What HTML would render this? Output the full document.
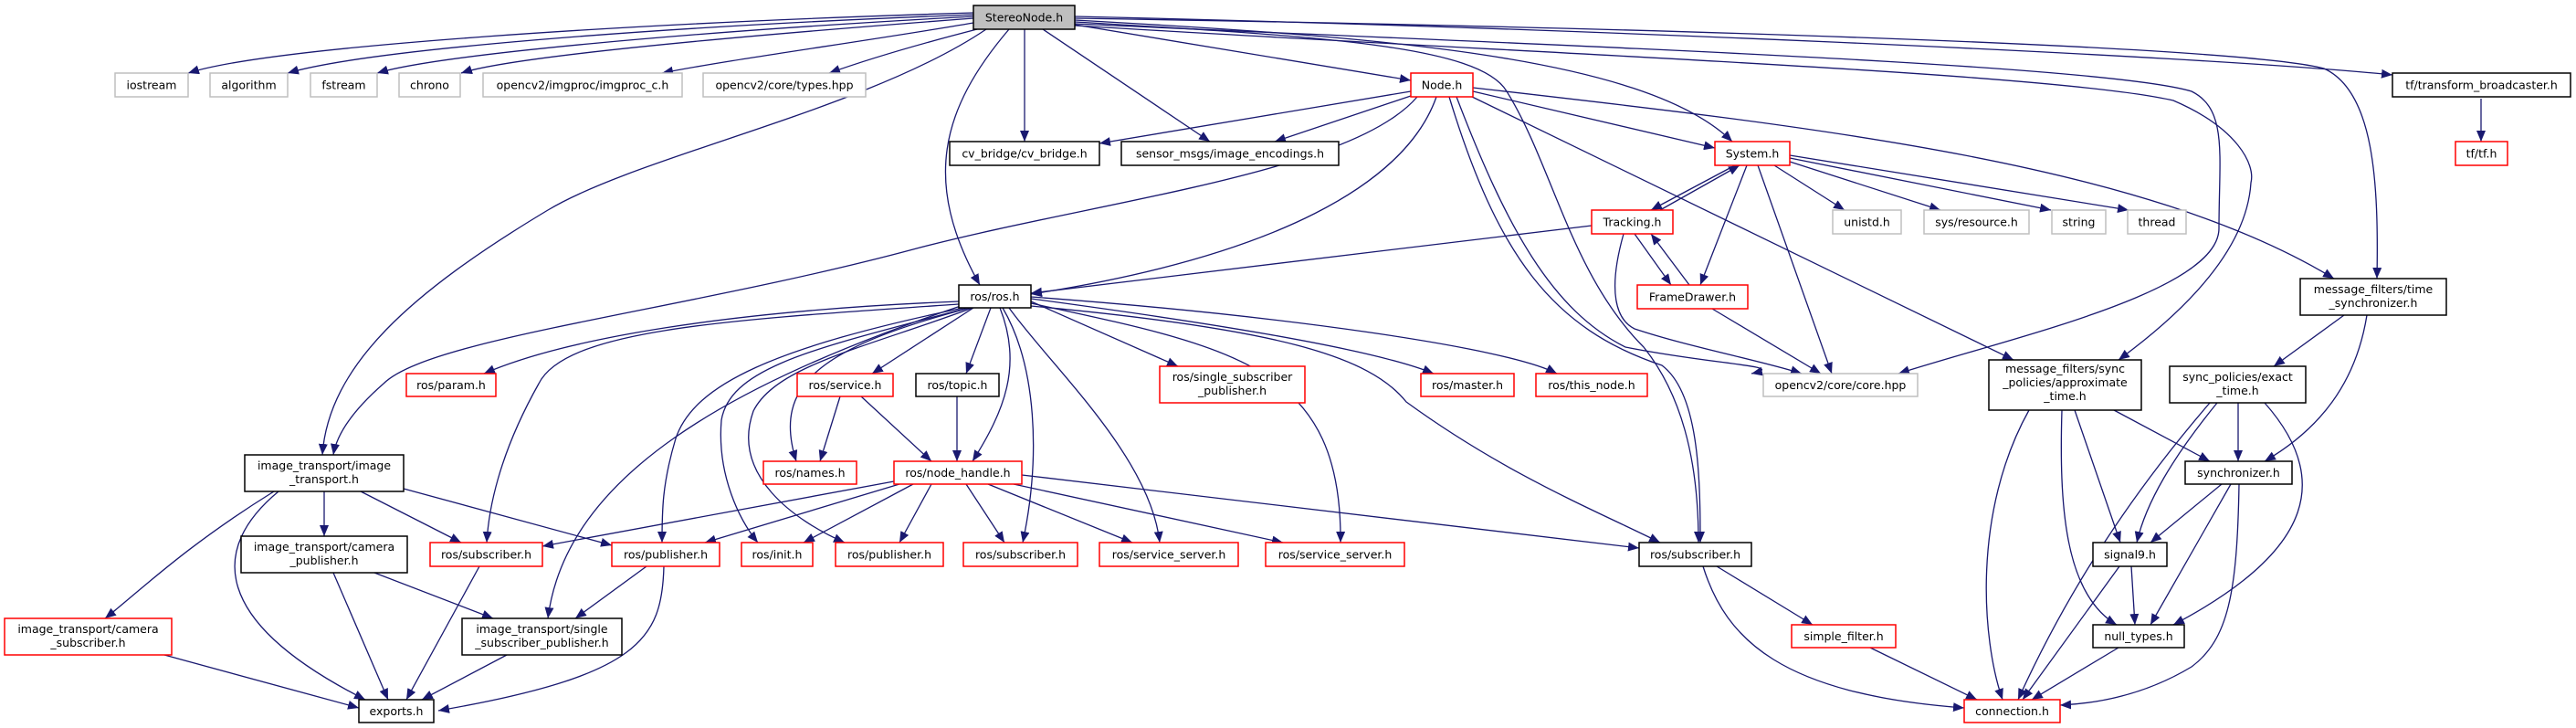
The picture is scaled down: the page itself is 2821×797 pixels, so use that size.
<!DOCTYPE html>
<html><head><meta charset="utf-8"><style>
html,body{margin:0;padding:0;background:#fff;}
svg{display:block;}
text{font-family:"DejaVu Sans","Liberation Sans",sans-serif;font-size:12.5px;fill:#000;}
.e{fill:none;stroke:#191970;stroke-width:1.3;marker-end:url(#a);}
.g{fill:#fff;stroke:#bfbfbf;stroke-width:1.5;}
.r{fill:#fff;stroke:#ff0000;stroke-width:1.5;}
.k{fill:#fff;stroke:#000;stroke-width:1.5;}
</style></head><body>
<svg width="2821" height="797" viewBox="0 0 2821 797" xmlns="http://www.w3.org/2000/svg">
<defs><marker id="a" markerUnits="userSpaceOnUse" markerWidth="13" markerHeight="10" refX="12" refY="5" orient="auto"><path d="M0,0 L12,5 L0,10 z" fill="#191970"/></marker></defs>
<g>
<path class="e" d="M1066,14 C700,25 300,50 206,80"/>
<path class="e" d="M1066,16 C700,30 400,55 315,80"/>
<path class="e" d="M1066,18 C750,35 480,60 413,80"/>
<path class="e" d="M1066,20 C800,40 560,62 505,80"/>
<path class="e" d="M1066,25 C950,45 800,65 725,80"/>
<path class="e" d="M1070,32 C1000,50 950,65 908,80"/>
<path class="e" d="M1080,32 C950,120 700,170 600,230 C450,320 360,400 353,498"/>
<path class="e" d="M1105,32 C1030,120 1010,200 1073,312"/>
<path class="e" d="M1122,32 L1122,155"/>
<path class="e" d="M1142,32 L1325,155"/>
<path class="e" d="M1177,27 L1545,88"/>
<path class="e" d="M1177,22 C1500,40 1800,60 1897,155"/>
<path class="e" d="M1177,24 C1450,40 1620,50 1650,100 C1700,180 1720,300 1800,380 C1840,430 1860,500 1860,594"/>
<path class="e" d="M1177,26 C1700,50 2300,70 2400,100 C2440,120 2430,170 2430,250 C2430,320 2200,370 2079,409"/>
<path class="e" d="M1177,28 C1700,60 2250,80 2380,110 C2450,140 2470,180 2465,200 C2460,280 2380,350 2320,394"/>
<path class="e" d="M1177,20 C1800,30 2450,50 2545,75 C2600,100 2605,200 2603,305"/>
<path class="e" d="M1177,18 C1700,30 2400,60 2620,82"/>
<path class="e" d="M1545,100 L1204,157"/>
<path class="e" d="M1545,105 L1396,155"/>
<path class="e" d="M1552,106 C1480,190 1200,220 1000,273 C750,340 470,370 420,420 C380,455 368,480 365,498"/>
<path class="e" d="M1573,106 C1540,200 1400,280 1129,322"/>
<path class="e" d="M1613,100 L1878,162"/>
<path class="e" d="M1613,96 C2000,140 2350,180 2556,305"/>
<path class="e" d="M1608,104 L2205,394"/>
<path class="e" d="M1587,106 C1640,280 1700,360 1820,400 C1860,430 1862,520 1862,594"/>
<path class="e" d="M1595,106 C1650,250 1700,340 1780,380 C1880,400 1960,400 1918,409"/>
<path class="e" d="M1900,181 L1808,230"/>
<path class="e" d="M1818,230 L1905,181"/>
<path class="e" d="M1913,181 L1862,312"/>
<path class="e" d="M1943,181 L2020,230"/>
<path class="e" d="M1960,177 L2125,230"/>
<path class="e" d="M1960,173 L2246,230"/>
<path class="e" d="M1960,170 L2331,230"/>
<path class="e" d="M1925,181 L2006,409"/>
<path class="e" d="M1790,256 L1830,312"/>
<path class="e" d="M1850,312 L1808,256"/>
<path class="e" d="M1743,247 L1129,321"/>
<path class="e" d="M1778,256 C1760,320 1770,350 1790,360 C1850,380 1930,395 1973,409"/>
<path class="e" d="M1875,338 L1994,409"/>
<path class="e" d="M1050,330 C800,340 620,370 530,409"/>
<path class="e" d="M1050,333 C800,350 620,360 590,420 C545,500 535,560 533,594"/>
<path class="e" d="M1055,337 C850,380 760,420 740,480 C725,530 725,560 725,594"/>
<path class="e" d="M1060,337 C900,380 800,400 790,460 C785,520 810,570 830,594"/>
<path class="e" d="M1065,337 C950,380 850,400 825,450 C800,520 870,570 925,594"/>
<path class="e" d="M1052,335 C800,420 620,520 600,677"/>
<path class="e" d="M1066,337 L955,409"/>
<path class="e" d="M1062,337 C900,380 845,420 872,505"/>
<path class="e" d="M1085,337 L1058,409"/>
<path class="e" d="M1095,337 C1120,400 1100,450 1065,505"/>
<path class="e" d="M1098,337 C1135,400 1140,500 1120,594"/>
<path class="e" d="M1105,337 C1150,400 1260,500 1270,594"/>
<path class="e" d="M1129,332 C1350,380 1470,400 1468,594"/>
<path class="e" d="M1129,330 L1290,401"/>
<path class="e" d="M1129,327 C1300,350 1500,380 1570,409"/>
<path class="e" d="M1129,325 C1400,345 1650,380 1705,409"/>
<path class="e" d="M1129,335 C1400,360 1500,390 1540,440 C1650,520 1750,560 1818,594"/>
<path class="e" d="M920,434 L898,505"/>
<path class="e" d="M943,434 L1020,505"/>
<path class="e" d="M1048,434 L1048,505"/>
<path class="e" d="M979,527 L594,598"/>
<path class="e" d="M985,530 L772,594"/>
<path class="e" d="M1000,530 L880,594"/>
<path class="e" d="M1020,530 L985,594"/>
<path class="e" d="M1058,530 L1100,594"/>
<path class="e" d="M1082,530 L1240,594"/>
<path class="e" d="M1110,530 L1405,594"/>
<path class="e" d="M1119,520 L1795,600"/>
<path class="e" d="M300,538 C200,600 150,650 115,677"/>
<path class="e" d="M305,538 C230,600 230,680 400,766"/>
<path class="e" d="M355,538 L355,587"/>
<path class="e" d="M395,538 L505,594"/>
<path class="e" d="M442,535 L670,597"/>
<path class="e" d="M365,627 L425,766"/>
<path class="e" d="M410,627 L540,677"/>
<path class="e" d="M525,620 L445,766"/>
<path class="e" d="M708,620 L630,677"/>
<path class="e" d="M727,620 C725,700 700,740 480,778"/>
<path class="e" d="M180,717 L393,775"/>
<path class="e" d="M555,717 L462,766"/>
<path class="e" d="M1880,620 L1985,684"/>
<path class="e" d="M1865,620 C1890,700 1950,760 2151,775"/>
<path class="e" d="M2048,709 L2165,766"/>
<path class="e" d="M2222,449 C2160,560 2170,700 2193,766"/>
<path class="e" d="M2258,449 C2255,550 2260,650 2318,684"/>
<path class="e" d="M2272,449 L2322,594"/>
<path class="e" d="M2315,449 L2420,505"/>
<path class="e" d="M2420,441 C2300,580 2240,700 2210,766"/>
<path class="e" d="M2428,441 C2380,500 2350,550 2340,594"/>
<path class="e" d="M2451,441 L2451,505"/>
<path class="e" d="M2480,441 C2550,520 2540,600 2380,684"/>
<path class="e" d="M2567,345 L2490,401"/>
<path class="e" d="M2592,345 C2580,420 2540,470 2480,505"/>
<path class="e" d="M2433,530 L2355,594"/>
<path class="e" d="M2443,530 L2355,684"/>
<path class="e" d="M2452,530 C2450,650 2440,700 2400,730 C2350,760 2300,770 2256,772"/>
<path class="e" d="M2334,620 L2338,684"/>
<path class="e" d="M2321,620 L2215,766"/>
<path class="e" d="M2320,709 L2225,766"/>
<path class="e" d="M2717,108 L2717,155"/>
</g>
<g>
<rect x="1066" y="6" width="111" height="26" fill="#bfbfbf" stroke="#000" stroke-width="1.5"/><text x="1121.5" y="23.5" text-anchor="middle">StereoNode.h</text>
<rect class="g" x="126" y="80" width="80" height="26"/><text x="166" y="97.5" text-anchor="middle">iostream</text>
<rect class="g" x="230" y="80" width="85" height="26"/><text x="272.5" y="97.5" text-anchor="middle">algorithm</text>
<rect class="g" x="340" y="80" width="73" height="26"/><text x="376.5" y="97.5" text-anchor="middle">fstream</text>
<rect class="g" x="437" y="80" width="67" height="26"/><text x="470.5" y="97.5" text-anchor="middle">chrono</text>
<rect class="g" x="529" y="80" width="218" height="26"/><text x="638" y="97.5" text-anchor="middle">opencv2/imgproc/imgproc_c.h</text>
<rect class="g" x="770" y="80" width="178" height="26"/><text x="859" y="97.5" text-anchor="middle">opencv2/core/types.hpp</text>
<rect class="r" x="1545" y="80" width="68" height="26"/><text x="1579" y="97.5" text-anchor="middle">Node.h</text>
<rect class="k" x="2620" y="80" width="195" height="26"/><text x="2717.5" y="97.5" text-anchor="middle">tf/transform_broadcaster.h</text>
<rect class="k" x="1040" y="155" width="164" height="26"/><text x="1122" y="172.5" text-anchor="middle">cv_bridge/cv_bridge.h</text>
<rect class="k" x="1228" y="155" width="238" height="26"/><text x="1347" y="172.5" text-anchor="middle">sensor_msgs/image_encodings.h</text>
<rect class="r" x="1878" y="155" width="82" height="26"/><text x="1919" y="172.5" text-anchor="middle">System.h</text>
<rect class="r" x="2689" y="155" width="57" height="26"/><text x="2717.5" y="172.5" text-anchor="middle">tf/tf.h</text>
<rect class="r" x="1743" y="230" width="89" height="26"/><text x="1787.5" y="247.5" text-anchor="middle">Tracking.h</text>
<rect class="g" x="2007" y="230" width="75" height="26"/><text x="2044.5" y="247.5" text-anchor="middle">unistd.h</text>
<rect class="g" x="2107" y="230" width="115" height="26"/><text x="2164.5" y="247.5" text-anchor="middle">sys/resource.h</text>
<rect class="g" x="2247" y="230" width="59" height="26"/><text x="2276.5" y="247.5" text-anchor="middle">string</text>
<rect class="g" x="2330" y="230" width="64" height="26"/><text x="2362" y="247.5" text-anchor="middle">thread</text>
<rect class="k" x="2519" y="305" width="160" height="40"/><text x="2599" y="321" text-anchor="middle">message_filters/time</text><text x="2599" y="336" text-anchor="middle">_synchronizer.h</text>
<rect class="k" x="1050" y="312" width="79" height="25"/><text x="1089.5" y="329" text-anchor="middle">ros/ros.h</text>
<rect class="r" x="1793" y="312" width="121" height="26"/><text x="1853.5" y="329.5" text-anchor="middle">FrameDrawer.h</text>
<rect class="k" x="2178" y="394" width="167" height="55"/><text x="2261.5" y="408" text-anchor="middle">message_filters/sync</text><text x="2261.5" y="423" text-anchor="middle">_policies/approximate</text><text x="2261.5" y="438" text-anchor="middle">_time.h</text>
<rect class="r" x="445" y="409" width="98" height="25"/><text x="494" y="426" text-anchor="middle">ros/param.h</text>
<rect class="r" x="873" y="409" width="105" height="25"/><text x="925.5" y="426" text-anchor="middle">ros/service.h</text>
<rect class="k" x="1003" y="409" width="91" height="25"/><text x="1048.5" y="426" text-anchor="middle">ros/topic.h</text>
<rect class="r" x="1270" y="401" width="159" height="40"/><text x="1349.5" y="417" text-anchor="middle">ros/single_subscriber</text><text x="1349.5" y="432" text-anchor="middle">_publisher.h</text>
<rect class="r" x="1556" y="409" width="102" height="25"/><text x="1607" y="426" text-anchor="middle">ros/master.h</text>
<rect class="r" x="1682" y="409" width="122" height="25"/><text x="1743" y="426" text-anchor="middle">ros/this_node.h</text>
<rect class="g" x="1931" y="409" width="169" height="25"/><text x="2015.5" y="426" text-anchor="middle">opencv2/core/core.hpp</text>
<rect class="k" x="2376" y="401" width="149" height="40"/><text x="2450.5" y="417" text-anchor="middle">sync_policies/exact</text><text x="2450.5" y="432" text-anchor="middle">_time.h</text>
<rect class="k" x="268" y="498" width="174" height="40"/><text x="355" y="514" text-anchor="middle">image_transport/image</text><text x="355" y="529" text-anchor="middle">_transport.h</text>
<rect class="r" x="836" y="505" width="102" height="25"/><text x="887" y="522" text-anchor="middle">ros/names.h</text>
<rect class="r" x="979" y="505" width="140" height="25"/><text x="1049" y="522" text-anchor="middle">ros/node_handle.h</text>
<rect class="k" x="2393" y="505" width="117" height="25"/><text x="2451.5" y="522" text-anchor="middle">synchronizer.h</text>
<rect class="k" x="264" y="587" width="182" height="40"/><text x="355" y="603" text-anchor="middle">image_transport/camera</text><text x="355" y="618" text-anchor="middle">_publisher.h</text>
<rect class="r" x="471" y="594" width="123" height="26"/><text x="532.5" y="611.5" text-anchor="middle">ros/subscriber.h</text>
<rect class="r" x="670" y="594" width="118" height="26"/><text x="729" y="611.5" text-anchor="middle">ros/publisher.h</text>
<rect class="r" x="812" y="594" width="78" height="26"/><text x="851" y="611.5" text-anchor="middle">ros/init.h</text>
<rect class="r" x="915" y="594" width="118" height="26"/><text x="974" y="611.5" text-anchor="middle">ros/publisher.h</text>
<rect class="r" x="1055" y="594" width="125" height="26"/><text x="1117.5" y="611.5" text-anchor="middle">ros/subscriber.h</text>
<rect class="r" x="1204" y="594" width="152" height="26"/><text x="1280" y="611.5" text-anchor="middle">ros/service_server.h</text>
<rect class="r" x="1386" y="594" width="152" height="26"/><text x="1462" y="611.5" text-anchor="middle">ros/service_server.h</text>
<rect class="k" x="1795" y="594" width="123" height="26"/><text x="1856.5" y="611.5" text-anchor="middle">ros/subscriber.h</text>
<rect class="k" x="2292" y="594" width="81" height="26"/><text x="2332.5" y="611.5" text-anchor="middle">signal9.h</text>
<rect class="r" x="5" y="677" width="183" height="40"/><text x="96.5" y="693" text-anchor="middle">image_transport/camera</text><text x="96.5" y="708" text-anchor="middle">_subscriber.h</text>
<rect class="k" x="506" y="677" width="175" height="40"/><text x="593.5" y="693" text-anchor="middle">image_transport/single</text><text x="593.5" y="708" text-anchor="middle">_subscriber_publisher.h</text>
<rect class="r" x="1962" y="684" width="114" height="25"/><text x="2019" y="701" text-anchor="middle">simple_filter.h</text>
<rect class="k" x="2292" y="684" width="100" height="25"/><text x="2342" y="701" text-anchor="middle">null_types.h</text>
<rect class="k" x="393" y="766" width="82" height="25"/><text x="434" y="783" text-anchor="middle">exports.h</text>
<rect class="r" x="2151" y="766" width="105" height="25"/><text x="2203.5" y="783" text-anchor="middle">connection.h</text>
</g>
</svg>
</body></html>
